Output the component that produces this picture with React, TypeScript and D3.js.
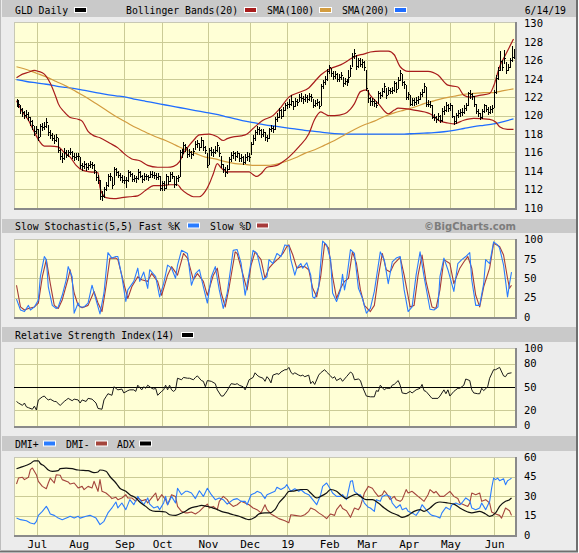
import React, { useEffect, useRef } from 'react';
import * as d3 from 'd3';

type Pt = [number, number];

// GLD daily bars, 6/15/18 - 6/14/19, as [high, low, close]
const gldBars: [number, number, number][] = [
  // Jun
  [121.8, 121.0, 121.4], [121.7, 120.9, 121.3], [121.1, 120.3, 120.7], [120.8, 120.0, 120.4], [120.5, 119.7, 120.1],
  [120.6, 119.8, 120.2], [120.4, 119.5, 119.9], [119.9, 119.0, 119.4], [119.5, 118.6, 119.0], [118.9, 117.9, 118.3],
  [118.9, 118.1, 118.6],
  // Jul
  [118.5, 117.3, 117.7], [119.1, 117.8, 118.9], [119.2, 118.4, 118.8], [119.3, 118.5, 118.9], [119.7, 118.8, 119.3],
  [119.0, 117.9, 118.2], [118.4, 117.6, 117.9], [118.1, 117.3, 117.6], [117.9, 117.0, 117.4], [118.0, 117.2, 117.7],
  [117.6, 116.0, 116.3], [116.4, 115.3, 115.6], [115.9, 115.0, 115.4], [116.5, 115.3, 116.0], [116.3, 115.5, 115.7],
  [116.3, 115.6, 116.0], [116.5, 115.8, 116.1], [116.2, 115.4, 115.6], [115.9, 115.2, 115.5], [115.9, 115.3, 115.6],
  [115.9, 115.2, 115.6],
  // Aug
  [115.5, 114.3, 114.6], [114.9, 114.1, 114.5], [115.1, 114.3, 114.8], [114.9, 114.1, 114.4], [114.9, 114.2, 114.6],
  [115.1, 114.4, 114.7], [115.0, 114.3, 114.6], [114.7, 113.8, 114.1], [114.0, 113.0, 113.3], [113.6, 112.7, 113.0],
  [113.0, 111.0, 111.3], [111.8, 110.9, 111.3], [112.3, 111.2, 112.0], [112.8, 111.9, 112.5], [113.7, 112.4, 113.5],
  [113.8, 113.0, 113.4], [113.3, 112.2, 112.5], [114.4, 112.6, 114.2], [114.3, 113.6, 113.9], [114.0, 113.3, 113.6],
  [113.8, 113.0, 113.3], [113.6, 112.8, 113.0], [113.4, 112.7, 113.0],
  // Sep
  [113.3, 112.3, 113.0], [114.1, 112.9, 113.9], [114.0, 113.4, 113.7], [113.8, 112.9, 113.1], [113.6, 112.9, 113.2],
  [113.5, 112.8, 113.2], [114.2, 113.1, 113.9], [114.0, 113.3, 113.5], [113.6, 112.8, 113.1], [113.8, 113.0, 113.5],
  [113.7, 113.1, 113.4], [113.6, 113.0, 113.3], [114.0, 113.3, 113.7], [114.0, 113.3, 113.6], [113.9, 113.2, 113.6],
  [113.8, 113.1, 113.3], [113.8, 113.1, 113.5], [113.4, 111.9, 112.1], [112.9, 111.9, 112.7],
  // Oct
  [112.9, 111.9, 112.2], [113.7, 112.1, 113.5], [113.5, 112.6, 112.9], [113.9, 112.9, 113.7], [113.9, 113.2, 113.5],
  [113.4, 112.3, 112.6], [113.4, 112.5, 113.2], [113.6, 112.9, 113.3], [116.3, 113.4, 116.0], [116.4, 115.5, 115.9],
  [117.1, 116.0, 116.8], [116.9, 116.2, 116.6], [116.5, 115.5, 115.8], [116.4, 115.6, 116.0], [116.2, 115.4, 115.8],
  [116.5, 115.7, 116.2], [117.2, 116.4, 116.9], [117.4, 116.6, 117.0], [117.0, 116.3, 116.6], [117.7, 116.6, 117.4],
  [117.3, 116.3, 116.6], [116.7, 115.9, 116.3], [115.9, 114.4, 114.6],
  // Nov
  [116.5, 114.8, 116.3], [116.6, 115.7, 116.0], [116.4, 115.6, 116.1], [116.7, 115.9, 116.3], [117.1, 116.2, 116.8],
  [116.6, 115.6, 115.9], [115.6, 114.4, 114.7], [114.8, 113.9, 114.2], [114.4, 113.5, 113.9], [114.6, 113.8, 114.2],
  [115.5, 114.2, 115.3], [116.0, 115.1, 115.7], [116.2, 115.4, 115.9], [116.0, 115.2, 115.6], [116.2, 115.5, 115.9],
  [115.9, 115.1, 115.4], [115.8, 115.1, 115.5], [115.6, 114.7, 115.0], [115.8, 114.9, 115.5], [116.0, 115.2, 115.6],
  [115.9, 115.1, 115.5],
  // Dec
  [117.1, 115.8, 116.9], [117.9, 116.9, 117.6], [118.4, 117.3, 118.2], [118.9, 118.0, 118.6], [118.8, 118.0, 118.4],
  [118.6, 117.7, 118.0], [118.5, 117.8, 118.2], [118.2, 117.3, 117.7], [117.9, 117.2, 117.6], [118.7, 117.6, 118.5],
  [119.0, 118.3, 118.7], [118.9, 118.2, 118.5], [119.9, 118.6, 119.6], [120.3, 119.4, 119.9], [120.8, 119.9, 120.6],
  [120.7, 119.7, 120.0], [120.9, 120.0, 120.6], [121.4, 120.6, 121.1], [121.5, 120.8, 121.3],
  // Jan
  [121.8, 120.9, 121.3], [122.2, 121.2, 121.6], [121.6, 120.7, 121.0], [121.9, 121.0, 121.6], [121.8, 121.1, 121.5],
  [122.3, 121.6, 122.0], [122.4, 121.6, 121.9], [122.1, 121.4, 121.8], [122.3, 121.6, 122.0], [122.2, 121.5, 121.8],
  [122.4, 121.7, 122.1], [122.3, 121.6, 122.0], [121.8, 120.9, 121.1], [121.7, 121.0, 121.4], [121.8, 121.1, 121.5],
  [121.6, 120.8, 121.0], [123.4, 121.1, 123.2], [123.9, 123.0, 123.6], [124.3, 123.4, 124.0], [125.1, 123.9, 124.8],
  [125.5, 124.6, 125.3],
  // Feb
  [125.2, 124.3, 124.6], [124.8, 124.0, 124.3], [124.8, 124.1, 124.5], [124.6, 123.7, 124.0], [124.5, 123.8, 124.2],
  [124.7, 124.0, 124.4], [124.2, 123.2, 123.5], [124.1, 123.4, 123.8], [124.0, 123.3, 123.6], [124.9, 123.7, 124.2],
  [125.5, 124.3, 125.2], [126.8, 125.4, 126.5], [127.2, 126.3, 126.8], [126.6, 125.1, 125.4], [126.3, 125.3, 126.0],
  [126.2, 125.4, 125.6], [126.1, 125.3, 125.8], [125.9, 124.9, 125.3], [124.9, 122.8, 123.0],
  // Mar
  [122.8, 121.5, 121.9], [122.0, 121.2, 121.6], [121.9, 121.2, 121.6], [121.8, 121.0, 121.4], [121.6, 120.9, 121.2],
  [122.7, 121.4, 122.5], [122.6, 121.9, 122.2], [123.0, 122.1, 122.7], [123.5, 122.6, 123.2], [123.0, 121.9, 122.2],
  [123.1, 122.3, 122.8], [123.0, 122.4, 122.7], [123.1, 122.4, 122.8], [123.8, 122.7, 123.5], [123.6, 122.6, 122.9],
  [124.2, 123.0, 123.9], [124.9, 123.9, 124.6], [124.5, 123.3, 123.6], [123.8, 123.0, 123.4], [123.3, 121.8, 122.0],
  [122.6, 121.8, 122.3],
  // Apr
  [122.2, 121.1, 121.3], [121.9, 121.2, 121.7], [121.9, 121.2, 121.5], [122.0, 121.3, 121.7], [122.1, 121.4, 121.8],
  [122.6, 121.8, 122.3], [122.9, 122.1, 122.6], [123.5, 122.6, 123.2], [123.1, 121.0, 121.3], [121.7, 121.0, 121.3],
  [121.6, 120.9, 121.2], [121.1, 119.7, 119.9], [120.2, 119.5, 119.8], [120.0, 119.3, 119.6], [120.3, 119.5, 120.0],
  [120.1, 119.3, 119.5], [120.8, 119.4, 120.5], [121.0, 120.2, 120.6], [121.5, 120.5, 121.2], [121.3, 120.5, 120.8],
  [121.4, 120.6, 121.1],
  // May
  [121.2, 119.8, 120.0], [120.0, 119.1, 119.4], [120.3, 119.2, 120.1], [120.6, 119.9, 120.3], [120.7, 120.0, 120.4],
  [120.8, 120.1, 120.4], [121.1, 120.3, 120.8], [121.4, 120.6, 121.1], [122.6, 121.2, 122.4], [122.8, 121.9, 122.3],
  [122.5, 121.8, 122.1], [122.1, 121.0, 121.3], [121.3, 120.3, 120.5], [120.7, 120.0, 120.3], [120.3, 119.6, 119.8],
  [120.7, 119.7, 120.5], [121.3, 120.4, 121.1], [121.2, 120.5, 120.7], [120.9, 120.2, 120.4], [121.0, 120.3, 120.7],
  [121.1, 120.4, 120.8], [122.8, 120.9, 122.6],
  // Jun
  [124.4, 122.5, 124.1], [125.3, 124.0, 124.9], [127.0, 125.0, 125.9], [126.0, 124.9, 125.3], [127.1, 125.7, 126.3],
  [125.8, 124.6, 124.9], [125.6, 124.9, 125.3], [126.3, 125.3, 126.0], [127.6, 125.9, 126.4], [127.2, 126.3, 126.6],
];

// moving averages, one reading every 5 sessions
const sma100 = [
  125.3, 125.0, 124.6, 124.2, 123.7, 123.2, 122.6, 122.0, 121.3, 120.6,
  119.9, 119.3, 118.7, 118.2, 117.7, 117.3, 116.8, 116.3, 115.9, 115.5,
  115.3, 115.0, 114.8, 114.7, 114.6, 114.6, 114.7, 115.0, 115.4, 115.9,
  116.3, 116.8, 117.3, 117.9, 118.5, 119.0, 119.4, 119.9, 120.3, 120.6,
  120.9, 121.3, 121.6, 121.9, 122.1, 122.3, 122.4, 122.5, 122.5, 122.7, 122.9,
];
const sma200 = [
  123.9, 123.7, 123.55, 123.4, 123.2, 123.05, 122.9, 122.7, 122.5, 122.3,
  122.15, 122.0, 121.75, 121.55, 121.35, 121.15, 120.95, 120.75, 120.55, 120.35,
  120.15, 119.9, 119.65, 119.4, 119.2, 119.0, 118.85, 118.7, 118.55, 118.4,
  118.3, 118.15, 118.05, 118.0, 118.0, 118.0, 118.0, 118.0, 118.0, 118.0,
  118.05, 118.1, 118.15, 118.25, 118.4, 118.6, 118.8, 118.95, 119.1, 119.35, 119.65,
];

// Bollinger Bands(20) as [session, value]
const bbUpper: Pt[] = [
  [0, 124.1], [3, 124.5], [6, 124.7], [9, 124.9], [11, 124.8], [14, 124.5], [17, 123.5], [20, 121.9], [21, 121.3],
  [24, 120.4], [27, 119.8], [31, 119.6], [33, 119.4], [36, 118.3], [39, 117.8], [42, 117.6], [47, 117.0], [51, 116.5],
  [54, 115.9], [58, 115.3], [62, 115.1], [66, 114.6], [71, 114.4], [76, 114.4], [79, 114.5], [82, 115.0], [84, 115.9],
  [87, 116.8], [89, 117.3], [92, 117.9], [97, 118.0], [101, 117.7], [104, 117.3], [106, 117.5], [109, 117.7],
  [113, 117.8], [116, 118.0], [119, 118.6], [124, 119.5], [129, 120.0], [133, 120.9], [137, 122.0], [142, 122.5],
  [147, 123.0], [150, 123.7], [153, 124.4], [158, 125.1], [163, 125.5], [167, 126.0], [170, 126.4], [175, 126.7],
  [178, 126.9], [183, 127.0], [187, 127.0], [190, 126.6], [193, 125.3], [197, 124.8], [207, 124.8], [212, 124.4],
  [217, 123.3], [222, 123.1], [225, 122.2], [228, 122.0], [233, 122.2], [238, 122.4], [240, 123.2], [243, 125.3],
  [246, 126.6], [250, 128.3],
];
const bbLower: Pt[] = [
  [0, 121.6], [3, 120.4], [6, 119.5], [9, 118.2], [11, 117.4], [14, 116.7], [17, 116.7], [21, 116.6], [24, 116.0],
  [27, 115.5], [30, 114.6], [33, 114.1], [37, 113.9], [41, 113.8], [42, 112.2], [43, 111.6], [45, 111.1], [49, 111.0],
  [53, 111.1], [57, 111.2], [61, 111.3], [65, 111.9], [69, 112.4], [73, 112.4], [77, 112.5], [81, 112.5], [83, 112.0],
  [86, 111.5], [89, 111.2], [92, 111.2], [95, 111.8], [97, 112.6], [99, 113.7], [101, 114.8], [103, 114.3],
  [106, 113.9], [110, 113.9], [114, 113.9], [117, 113.9], [119, 113.6], [121, 113.4], [123, 113.7], [126, 114.4],
  [131, 114.6], [134, 115.0], [137, 115.5], [142, 116.6], [147, 118.0], [150, 119.6], [153, 120.4], [155, 120.2],
  [157, 120.0], [160, 120.0], [165, 120.2], [168, 120.7], [170, 121.3], [173, 122.6], [176, 122.8], [178, 122.2],
  [182, 121.3], [187, 120.2], [190, 120.6], [192, 120.8], [200, 120.6], [208, 120.2], [213, 119.4], [217, 119.2],
  [220, 119.1], [225, 119.5], [230, 119.7], [238, 119.6], [241, 119.3], [243, 118.8], [247, 118.5], [250, 118.5],
];

// Slow Stochastic(5,5)
const stochK: Pt[] = [
  [0, 23], [2, 9], [4, 7], [6, 15], [7, 9], [9, 13], [11, 22], [12, 52], [14, 78], [15, 74], [16, 39], [18, 15],
  [20, 11], [21, 13], [23, 28], [25, 48], [26, 65], [28, 52], [29, 5], [31, 18], [32, 13], [34, 13], [36, 18],
  [38, 41], [40, 22], [42, 4], [44, 31], [46, 83], [48, 76], [50, 78], [51, 78], [53, 52], [55, 20], [56, 35],
  [59, 46], [61, 63], [62, 46], [64, 58], [66, 37], [67, 61], [70, 52], [72, 26], [74, 43], [76, 67], [78, 63],
  [80, 50], [81, 67], [83, 86], [86, 82], [88, 41], [90, 56], [92, 61], [94, 39], [96, 18], [98, 52], [100, 65],
  [102, 35], [104, 11], [106, 31], [109, 86], [111, 87], [113, 69], [115, 28], [117, 56], [119, 86], [121, 82],
  [124, 48], [126, 52], [127, 74], [129, 69], [131, 82], [133, 78], [135, 93], [137, 92], [138, 74], [140, 54],
  [141, 63], [143, 69], [144, 63], [146, 70], [148, 54], [149, 26], [150, 24], [152, 39], [154, 98], [156, 93],
  [158, 74], [159, 31], [161, 20], [163, 35], [164, 55], [165, 35], [166, 48], [168, 87], [170, 82], [172, 37],
  [174, 24], [176, 5], [178, 11], [180, 33], [183, 84], [185, 74], [187, 43], [189, 71], [191, 76], [193, 78],
  [195, 35], [197, 7], [199, 13], [201, 54], [203, 84], [205, 52], [208, 10], [210, 9], [212, 13], [213, 52],
  [215, 76], [217, 61], [220, 33], [222, 69], [224, 74], [226, 78], [228, 83], [229, 48], [231, 15], [233, 15],
  [235, 43], [236, 74], [238, 69], [240, 97], [242, 93], [243, 89], [245, 67], [247, 26], [248, 43], [249, 58],
];
const stochD: Pt[] = [
  [0, 41], [2, 13], [4, 9], [6, 11], [9, 13], [11, 18], [13, 52], [15, 74], [17, 43], [19, 15], [21, 11], [23, 22],
  [26, 50], [27, 61], [29, 31], [31, 15], [33, 12], [36, 15], [39, 33], [41, 18], [43, 7], [45, 39], [47, 76],
  [50, 76], [51, 74], [54, 43], [56, 24], [58, 39], [61, 52], [63, 48], [66, 46], [68, 56], [71, 46], [73, 28],
  [76, 54], [78, 65], [81, 54], [84, 82], [86, 76], [89, 48], [91, 56], [94, 46], [96, 28], [99, 54], [101, 63],
  [103, 31], [105, 13], [107, 39], [110, 84], [111, 82], [114, 54], [116, 35], [118, 67], [120, 84], [123, 74],
  [125, 50], [127, 63], [129, 69], [132, 76], [134, 82], [136, 91], [137, 93], [139, 80], [141, 63], [143, 65],
  [145, 65], [147, 61], [149, 37], [151, 26], [153, 52], [155, 95], [157, 89], [159, 52], [161, 24], [163, 37],
  [165, 46], [167, 50], [169, 84], [171, 69], [173, 35], [175, 15], [178, 7], [180, 15], [182, 52], [184, 82],
  [186, 61], [188, 58], [190, 69], [193, 77], [195, 54], [198, 13], [200, 15], [202, 54], [204, 80], [206, 46],
  [209, 13], [211, 11], [213, 35], [215, 74], [218, 69], [220, 43], [223, 63], [225, 71], [227, 78], [229, 63],
  [231, 28], [233, 13], [235, 39], [238, 63], [240, 95], [243, 91], [245, 80], [247, 50], [248, 37], [249, 41],
];

// Relative Strength Index(14)
const rsi14: Pt[] = [
  [0, 31], [1, 29], [3, 26], [4, 29], [5, 24], [6, 23], [8, 21], [9, 25], [10, 20], [11, 33], [13, 37], [14, 38],
  [15, 35], [16, 33], [17, 34], [19, 31], [20, 31], [21, 28], [22, 26], [24, 31], [25, 33], [26, 35], [28, 32],
  [29, 34], [31, 33], [32, 29], [33, 33], [35, 31], [36, 35], [38, 34], [40, 29], [41, 22], [43, 21], [44, 33],
  [45, 37], [46, 41], [48, 39], [49, 50], [50, 48], [51, 46], [53, 47], [54, 42], [56, 45], [57, 46], [59, 46],
  [60, 44], [61, 52], [63, 46], [64, 50], [65, 48], [66, 52], [68, 48], [69, 47], [70, 48], [71, 39], [73, 44],
  [74, 46], [75, 52], [76, 46], [77, 52], [78, 46], [79, 44], [80, 46], [81, 61], [83, 59], [84, 62], [86, 61],
  [87, 61], [89, 59], [90, 62], [91, 64], [93, 58], [94, 57], [95, 50], [96, 58], [98, 57], [100, 54], [101, 46],
  [103, 38], [104, 38], [106, 45], [107, 50], [108, 54], [110, 53], [111, 54], [112, 52], [114, 50], [115, 46],
  [116, 52], [117, 59], [119, 62], [120, 68], [121, 65], [122, 63], [124, 61], [125, 57], [126, 63], [127, 60],
  [128, 55], [129, 65], [131, 67], [132, 66], [133, 69], [135, 72], [136, 72], [137, 75], [138, 69], [139, 66],
  [140, 68], [142, 65], [143, 64], [144, 65], [145, 63], [147, 65], [148, 54], [149, 57], [150, 53], [152, 65],
  [153, 68], [155, 72], [156, 69], [158, 64], [159, 61], [160, 63], [161, 58], [163, 61], [164, 57], [165, 60],
  [166, 63], [168, 69], [169, 67], [170, 59], [172, 60], [173, 58], [174, 50], [176, 38], [178, 37], [180, 37],
  [181, 45], [182, 44], [183, 52], [185, 46], [186, 48], [188, 48], [189, 52], [190, 53], [192, 58], [193, 52],
  [194, 42], [196, 41], [198, 44], [199, 42], [201, 46], [203, 48], [204, 53], [205, 45], [206, 44], [208, 38],
  [209, 35], [210, 35], [212, 35], [213, 38], [215, 46], [216, 41], [217, 46], [218, 38], [220, 44], [221, 46],
  [222, 48], [223, 48], [225, 52], [226, 60], [228, 58], [229, 46], [230, 42], [232, 41], [233, 41], [234, 48],
  [235, 45], [237, 50], [238, 61], [240, 72], [241, 72], [243, 75], [245, 64], [246, 63], [247, 67], [249, 68],
];

// DMI
const dmiPlus: Pt[] = [
  [0, 13], [2, 11.8], [5, 11], [7, 9.2], [9, 8.5], [10, 10.5], [11, 15.1], [13, 18.2], [15, 22], [16, 19.5],
  [17, 16.2], [19, 15.1], [21, 13], [23, 11.8], [26, 13.6], [27, 14.4], [29, 13], [31, 14.4], [32, 13], [35, 14.4],
  [37, 15.1], [40, 13], [42, 8], [44, 10.5], [46, 17], [48, 20.8], [50, 25.4], [51, 20.8], [53, 24.6], [55, 19.5],
  [57, 27.2], [59, 23.3], [61, 29.7], [62, 27.2], [64, 23.3], [66, 28.5], [67, 23.8], [69, 20.8], [71, 22],
  [72, 19.5], [74, 24.6], [75, 29.7], [76, 23.3], [78, 29.7], [80, 24.6], [81, 36], [83, 31], [85, 33.6], [86, 33.6],
  [88, 32.3], [90, 28], [92, 34], [94, 29.7], [96, 36], [98, 31], [100, 27.2], [102, 28.5], [104, 27.2], [106, 23.8],
  [109, 27.2], [111, 28], [113, 25.9], [115, 25.9], [116, 23.3], [118, 31], [120, 32.3], [121, 33.6], [123, 32.3],
  [125, 28], [126, 31], [128, 32.3], [130, 33.6], [131, 36.7], [133, 35], [135, 36.7], [136, 38.7], [137, 36],
  [138, 33.6], [140, 35.6], [142, 33.6], [143, 35], [145, 32.3], [147, 31], [149, 27.2], [151, 23.3], [153, 31],
  [154, 37.4], [156, 40], [158, 35], [159, 32.3], [161, 29.7], [163, 29.7], [164, 31], [166, 27.2], [168, 41.3],
  [169, 41.8], [170, 33.6], [172, 31], [173, 31], [175, 24.6], [177, 21.3], [178, 20.8], [180, 18.2], [181, 27.2],
  [183, 25.9], [184, 29.7], [186, 31], [188, 29.7], [189, 24.6], [191, 20.8], [193, 23.3], [194, 19.5], [196, 20.8],
  [197, 18.2], [199, 17], [201, 15.1], [203, 19.5], [204, 23.3], [206, 19.5], [208, 16.2], [209, 15.1], [211, 14.4],
  [213, 13], [214, 17], [216, 21.3], [218, 19.5], [219, 23.3], [221, 24.6], [223, 23.3], [224, 24.6], [226, 28.5],
  [228, 26.4], [229, 20.8], [231, 19.5], [233, 20.8], [234, 24.6], [236, 19.5], [238, 25.9], [239, 36], [240, 43.8],
  [241, 42.6], [242, 43.8], [243, 41.8], [245, 43.3], [246, 38.7], [247, 41.8], [248, 42.6], [249, 43.8],
];
const dmiMinus: Pt[] = [
  [0, 39.2], [1, 43.8], [3, 44.4], [4, 42.6], [6, 44.4], [7, 50.3], [8, 51.5], [10, 46.4], [11, 41.3], [13, 37.4],
  [15, 35.6], [16, 40], [17, 43.8], [19, 40], [20, 46.4], [22, 45.9], [23, 42.6], [26, 40.8], [27, 39.2], [29, 40],
  [31, 36.2], [33, 37.4], [34, 34.9], [36, 37.4], [38, 36.2], [39, 41.3], [41, 33.6], [42, 42.6], [43, 33.6],
  [45, 32.3], [47, 29.7], [48, 28], [50, 29], [51, 27.2], [53, 28.5], [55, 31], [56, 28.5], [58, 28.5], [60, 25.9],
  [61, 28.5], [63, 26.4], [65, 27.2], [66, 24.6], [68, 28.5], [70, 32.3], [71, 26.4], [73, 31], [75, 27.2],
  [76, 23.3], [78, 31], [80, 29.7], [81, 22], [83, 18.2], [85, 17], [86, 17], [88, 17.7], [90, 16.2], [92, 18.2],
  [94, 21.3], [96, 23.8], [97, 20.8], [99, 22], [101, 19.5], [102, 25.9], [104, 29.7], [106, 27.2], [107, 24.6],
  [109, 22], [111, 23.3], [113, 25.9], [115, 24.6], [117, 23.3], [119, 20.8], [121, 19.5], [123, 17], [125, 23.3],
  [126, 19.5], [128, 16.2], [130, 14.4], [132, 12.6], [135, 11], [137, 9.5], [138, 15.6], [140, 15.1], [143, 14.4],
  [145, 15.6], [147, 18.2], [148, 20.8], [150, 19.5], [152, 17], [154, 15.1], [156, 12.6], [158, 16.2], [160, 15.1],
  [161, 19.5], [163, 23.3], [164, 20.3], [166, 18.7], [168, 13.6], [170, 20.8], [172, 19.5], [173, 22], [175, 32.3],
  [177, 37.4], [179, 36], [180, 33.6], [182, 29.7], [184, 31], [185, 34], [186, 32.3], [188, 27.2], [190, 29.7],
  [191, 27.2], [193, 25.9], [194, 27.2], [196, 34.9], [197, 32.3], [199, 33.6], [200, 32.3], [202, 29.7],
  [203, 28.5], [205, 25.9], [207, 31], [208, 34.9], [210, 32.3], [211, 33.6], [213, 29.7], [215, 29.7], [216, 31],
  [218, 33.6], [220, 29.7], [222, 28], [223, 24.6], [225, 23.3], [227, 22], [228, 24.6], [229, 32.3], [231, 31],
  [233, 32.3], [234, 25.9], [236, 27.2], [238, 24.6], [239, 17.7], [241, 16.2], [243, 15.1], [244, 13], [246, 20.8],
  [248, 18.7], [249, 15.1],
];
const adx: Pt[] = [
  [0, 51], [2, 52], [5, 53.6], [7, 55], [9, 57], [11, 57], [12, 55], [14, 53], [16, 50], [18, 49], [21, 49.5],
  [22, 51], [25, 51.5], [28, 51], [31, 50], [36, 49.5], [39, 48], [41, 48.5], [42, 50], [45, 49], [47, 45], [50, 40],
  [52, 36], [55, 33.6], [57, 31], [60, 28.5], [62, 25.4], [65, 22], [67, 19.5], [70, 18.2], [72, 18.2], [75, 17.7],
  [77, 15.6], [80, 15.1], [82, 16.2], [85, 18.2], [87, 20.3], [91, 22], [93, 22.8], [96, 22], [98, 21.3], [101, 19.5],
  [103, 18.2], [106, 17], [109, 15.6], [112, 14.4], [115, 12.6], [117, 11.8], [120, 13.6], [122, 16.2], [125, 17],
  [127, 17], [130, 19.5], [132, 24.6], [135, 29.7], [137, 33.6], [140, 34], [143, 35], [146, 35], [148, 32.3],
  [151, 28.5], [153, 29.7], [156, 32.3], [158, 35], [161, 33.6], [163, 31], [166, 28], [168, 29.7], [171, 31.5],
  [173, 29.7], [176, 27.2], [179, 27.2], [182, 24.6], [185, 20.8], [188, 17.7], [192, 15.1], [194, 13.6], [197, 15.1],
  [200, 18.2], [203, 19.5], [205, 18.2], [208, 20.8], [211, 24.6], [213, 25.4], [217, 24.6], [220, 23.8], [223, 20.8],
  [227, 17.7], [229, 17], [233, 18.2], [236, 16.2], [238, 14.4], [241, 17], [243, 22], [246, 25.9], [248, 27.2],
  [249, 28.5],
];

// first session of each month on the axis
const monthLabels = ['Jul', 'Aug', 'Sep', 'Oct', 'Nov', 'Dec', '19', 'Feb', 'Mar', 'Apr', 'May', 'Jun'];
const monthStarts = [11, 32, 55, 74, 97, 118, 137, 158, 177, 198, 219, 241];

const priceTicks = [110, 112, 114, 116, 118, 120, 122, 124, 126, 128, 130];
const priceGrid = [112, 114, 116, 118, 120, 122, 124, 126, 128];
const stochTicks = [0, 25, 50, 75, 100];
const rsiTicks = [0, 20, 50, 80, 100];
const dmiTicks = [0, 15, 30, 45, 60];

const W = 579;
const H = 553;
const MONO = '"DejaVu Sans Mono", monospace';

const App: React.FC = () => {
  const svgRef = useRef<SVGSVGElement>(null);

  useEffect(() => {
    if (!svgRef.current) return;
    const svg = d3.select(svgRef.current);
    svg.selectAll('*').remove();

    // outer frame
    svg.append('rect').attr('width', W).attr('height', H).attr('fill', '#ffffff');
    svg.append('rect').attr('width', 577).attr('height', 551).attr('fill', '#ececec');
    svg.append('path').attr('d', 'M577,0V551.5H0').attr('fill', 'none').attr('stroke', '#6f6f6f').attr('stroke-width', 2);
    svg.append('line').attr('x1', 0.5).attr('x2', 0.5).attr('y1', 0).attr('y2', 551)
      .attr('stroke', '#bdbdbd');

    // header bands
    [[0, 17], [219, 233], [327, 342], [436, 451]].forEach(([t, b]) => {
      svg.append('rect').attr('x', 2).attr('y', t).attr('width', 574).attr('height', b - t).attr('fill', '#c9c9c9');
    });

    const x = d3.scaleLinear().domain([0, 250]).range([16.5, 513.5]);

    const drawPanel = (
      top: number, bottom: number, y: d3.ScaleLinear<number, number>,
      grid: number[], ticks: number[], id: string
    ) => {
      svg.append('rect').attr('x', 14).attr('y', top).attr('width', 501).attr('height', bottom - top)
        .attr('fill', '#ffffd6');
      const gridG = svg.append('g').attr('stroke', '#cbcb96').attr('shape-rendering', 'crispEdges');
      grid.forEach(v => {
        const yy = Math.round(y(v)) + 0.5;
        gridG.append('line').attr('x1', 14).attr('x2', 515).attr('y1', yy).attr('y2', yy);
      });
      monthStarts.forEach(m => {
        const xx = Math.round(x(m) - 1.5) + 0.5;
        gridG.append('line').attr('x1', xx).attr('x2', xx).attr('y1', top).attr('y2', bottom);
      });
      // bevel
      svg.append('line').attr('x1', 14).attr('x2', 515).attr('y1', top + 0.5).attr('y2', top + 0.5)
        .attr('stroke', '#c8c8b4');
      svg.append('line').attr('x1', 14.5).attr('x2', 14.5).attr('y1', top).attr('y2', bottom)
        .attr('stroke', '#c8c8b4');
      svg.append('path').attr('d', `M14,${bottom + 1}H516V${top}`).attr('fill', 'none')
        .attr('stroke', '#8a8a8a').attr('stroke-width', 2);

      ticks.forEach(t => {
        svg.append('text').attr('x', 524).attr('y', y(t)).attr('dy', '0.36em')
          .attr('font-family', MONO).attr('font-size', 10.5).attr('fill', '#000').text(String(t));
      });

      svg.append('clipPath').attr('id', id).append('rect')
        .attr('x', 14).attr('y', top).attr('width', 501).attr('height', bottom - top);
      return svg.append('g').attr('clip-path', `url(#${id})`);
    };

    const pathOf = (g: d3.Selection<SVGGElement, unknown, null, undefined>, pts: Pt[],
      y: d3.ScaleLinear<number, number>, color: string, width = 1, smooth = false) => {
      const line = d3.line<Pt>().x(d => x(d[0])).y(d => y(d[1]));
      if (smooth) line.curve(d3.curveMonotoneX);
      g.append('path').datum(pts).attr('fill', 'none').attr('stroke', color)
        .attr('stroke-width', width).attr('stroke-linejoin', 'round').attr('d', line);
    };

    const every5 = (vals: number[]): Pt[] => vals.map((v, k) => [k * 5, v]);

    // --- price panel
    const yP = d3.scaleLinear().domain([110, 130]).range([207.8, 23.4]);
    const gP = drawPanel(22, 208, yP, priceGrid, priceTicks, 'clip-price');
    pathOf(gP, every5(sma200), yP, '#1f6dff', 1.3, true);
    pathOf(gP, every5(sma100), yP, '#d39c3f', 1.2, true);
    pathOf(gP, bbUpper, yP, '#a81c1c', 1.2, true);
    pathOf(gP, bbLower, yP, '#a81c1c', 1.2, true);

    const barsG = gP.append('g').attr('stroke', '#000').attr('shape-rendering', 'crispEdges');
    gldBars.forEach(([h, l, c], i) => {
      const px = Math.round(x(i)) + 0.5;
      barsG.append('line').attr('x1', px).attr('x2', px).attr('y1', Math.round(yP(h))).attr('y2', Math.round(yP(l)) + 1);
      const cy = Math.round(yP(c)) + 0.5;
      barsG.append('line').attr('x1', px).attr('x2', px + 1.5).attr('y1', cy).attr('y2', cy);
    });

    // --- stochastic
    const yS = d3.scaleLinear().domain([0, 100]).range([317, 239.5]);
    const gS = drawPanel(239, 317, yS, [25, 50, 75], stochTicks, 'clip-stoch');
    pathOf(gS, stochD, yS, '#a63a3a', 1.1);
    pathOf(gS, stochK, yS, '#2a7cff', 1.1);

    // --- RSI
    const yR = d3.scaleLinear().domain([0, 100]).range([425.5, 348]);
    const gR = drawPanel(348, 426, yR, [20, 80], rsiTicks, 'clip-rsi');
    gR.append('line').attr('x1', 14).attr('x2', 515).attr('y1', Math.round(yR(50)) + 0.5)
      .attr('y2', Math.round(yR(50)) + 0.5).attr('stroke', '#000').attr('shape-rendering', 'crispEdges');
    pathOf(gR, rsi14, yR, '#1a1a1a', 1);

    // --- DMI
    const yD = d3.scaleLinear().domain([0, 60]).range([535, 457]);
    const gD = drawPanel(457, 535, yD, [15, 30, 45], dmiTicks, 'clip-dmi');
    pathOf(gD, dmiMinus, yD, '#a4453c', 1.1);
    pathOf(gD, dmiPlus, yD, '#2a7cff', 1.1);
    pathOf(gD, adx, yD, '#111', 1.2, true);

    // month labels
    monthStarts.forEach((m, k) => {
      svg.append('text').attr('x', x(m) - 1).attr('y', 548).attr('text-anchor', 'middle')
        .attr('font-family', MONO).attr('font-size', 11).attr('fill', '#000').text(monthLabels[k]);
    });

    // headers and legends
    const label = (tx: number, ty: number, s: string) =>
      svg.append('text').attr('x', tx).attr('y', ty).attr('font-family', MONO).attr('font-size', 9.8)
        .attr('fill', '#000').text(s);
    const swatch = (sx: number, cy: number, color: string) => {
      svg.append('rect').attr('x', sx - 1).attr('y', cy - 3).attr('width', 13).attr('height', 6).attr('fill', '#fff');
      svg.append('rect').attr('x', sx).attr('y', cy - 2).attr('width', 11).attr('height', 4).attr('fill', color);
    };

    label(15, 13.5, 'GLD Daily'); swatch(75, 10, '#000');
    label(126, 13.5, 'Bollinger Bands(20)'); swatch(245, 10, '#a81c1c');
    label(267, 13.5, 'SMA(100)'); swatch(320, 10, '#d39c3f');
    label(342, 13.5, 'SMA(200)'); swatch(395, 10, '#1f6dff');
    svg.append('text').attr('x', 566).attr('y', 13.5).attr('text-anchor', 'end').attr('font-family', MONO)
      .attr('font-size', 9.8).attr('fill', '#000').text('6/14/19');

    label(15, 229.5, 'Slow Stochastic(5,5) Fast %K'); swatch(188, 225.5, '#2a7cff');
    label(210, 229.5, 'Slow %D'); swatch(257, 225.5, '#a63a3a');
    svg.append('text').attr('x', 424).attr('y', 230).attr('font-family', '"DejaVu Sans", sans-serif')
      .attr('font-weight', 'bold').attr('font-size', 10.5).attr('fill', '#7c7c7c')
      .attr('textLength', 92).attr('lengthAdjust', 'spacingAndGlyphs').text('©BigCharts.com');

    label(15, 339, 'Relative Strength Index(14)'); swatch(182, 335, '#000');

    label(15, 447.5, 'DMI+'); swatch(44, 443.5, '#2a7cff');
    label(66, 447.5, 'DMI-'); swatch(96, 443.5, '#a4453c');
    label(117, 447.5, 'ADX'); swatch(140, 443.5, '#000');
  }, []);

  return (
    <>
      <style>{'body{margin:0}'}</style>
      <svg ref={svgRef} width={W} height={H} style={{ display: 'block' }} />
    </>
  );
};

export default App;
